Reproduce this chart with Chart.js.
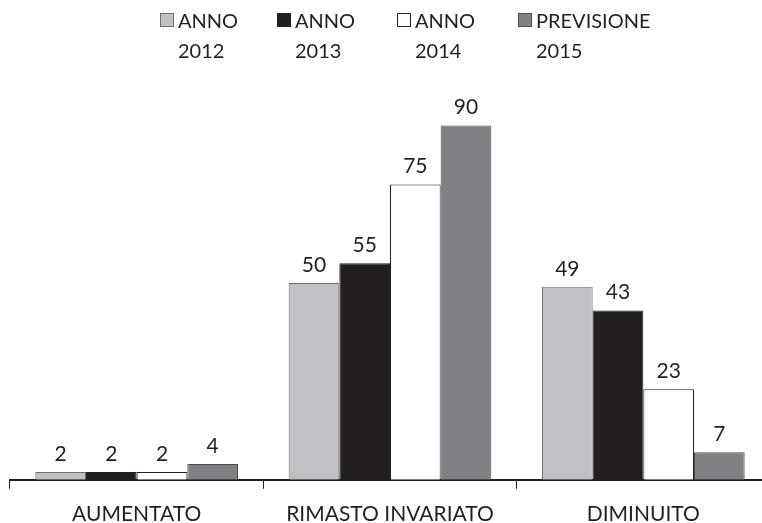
<!DOCTYPE html>
<html>
<head>
<meta charset="utf-8">
<script src="https://cdn.jsdelivr.net/npm/chart.js@4"></script>
<style>
  html, body { margin: 0; padding: 0; background: #fff; overflow: hidden; }
  #wrap { position: relative; width: 780px; height: 523px; }
  #legend { position: absolute; left: 0; top: 0; width: 762px; height: 80px; font-family: Lato, sans-serif; font-size: 20px; color: #231f20; }
  .item { position: absolute; top: 5px; }
  .box { position: absolute; left: 0; top: 8px; width: 12px; height: 12px; border: 1px solid #555; }
  .txt { position: absolute; left: 18px; top: 0; line-height: 30px; white-space: nowrap; }
</style>
</head>
<body>
<div id="wrap">
  <canvas id="chart" width="780" height="523"></canvas>
  <div id="legend"></div>
</div>
<script>
const categories = ['AUMENTATO', 'RIMASTO INVARIATO', 'DIMINUITO'];
const seriesLabels = [['ANNO', '2012'], ['ANNO', '2013'], ['ANNO', '2014'], ['PREVISIONE', '2015']];
const anno2012 = [2, 50, 49];
const anno2013 = [2, 55, 43];
const anno2014 = [2, 75, 23];
const previsione2015 = [4, 90, 7];

const fills = ['#c0c1c4', '#231f20', '#ffffff', '#808184'];
const borders = ['#6d6e71', '#231f20', '#231f20', '#4d4d4f'];
const legendLeft = [160, 277, 397, 518];

// legend as html so the two-line labels sit like the original
const legendDiv = document.getElementById('legend');
seriesLabels.forEach((lines, i) => {
  const item = document.createElement('div');
  item.className = 'item';
  item.style.left = legendLeft[i] + 'px';
  item.innerHTML = `<div class="box" style="background:${fills[i]};border-color:${borders[i]}"></div>
    <div class="txt">${lines[0]}<br>${lines[1]}</div>`;
  legendDiv.appendChild(item);
});

const valueLabels = {
  id: 'valueLabels',
  afterDatasetsDraw(chart) {
    const ctx = chart.ctx;
    ctx.save();
    ctx.font = '21px Lato, sans-serif';
    ctx.fillStyle = '#231f20';
    ctx.textAlign = 'center';
    ctx.textBaseline = 'alphabetic';
    chart.data.datasets.forEach((ds, i) => {
      chart.getDatasetMeta(i).data.forEach((bar, j) => {
        ctx.fillText(ds.data[j], bar.x, bar.y - 11);
      });
    });
    ctx.restore();
  }
};

const seriesData = [anno2012, anno2013, anno2014, previsione2015];

new Chart(document.getElementById('chart'), {
  type: 'bar',
  data: {
    labels: categories,
    datasets: seriesData.map((d, i) => ({
      label: seriesLabels[i].join(' '),
      data: d,
      backgroundColor: fills[i],
      borderColor: borders[i],
      borderWidth: 1,
      categoryPercentage: 0.8,
      barPercentage: 1.0
    }))
  },
  options: {
    responsive: false,
    animation: false,
    layout: { padding: { left: 10, right: 10, top: 86, bottom: -17 } },
    plugins: {
      legend: { display: false },
      tooltip: { enabled: false }
    },
    scales: {
      x: {
        offset: true,
        border: { display: true, color: '#231f20', width: 2 },
        grid: {
          offset: true,
          drawOnChartArea: false,
          drawTicks: true,
          tickLength: 9,
          color: '#231f20',
          lineWidth: 1
        },
        ticks: {
          color: '#231f20',
          padding: 13,
          font: { family: 'Lato, sans-serif', size: 21 }
        }
      },
      y: {
        display: false,
        min: 0,
        max: 100
      }
    }
  },
  plugins: [valueLabels]
});
</script>
</body>
</html>
